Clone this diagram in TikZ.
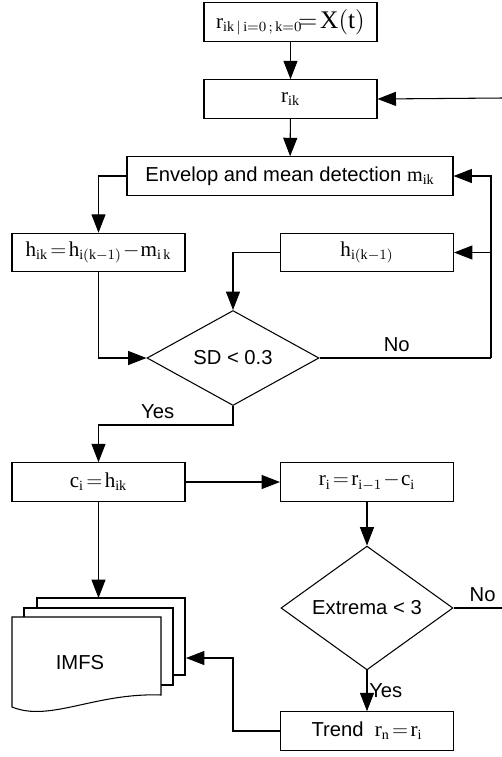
\documentclass[tikz,border=0pt]{standalone}
\usepackage{amsmath}
\usepackage{fontspec}
\setmainfont{Liberation Sans}
\setmathrm{Liberation Serif}
\usepackage{tikz}
\usetikzlibrary{positioning, arrows.meta, shapes.geometric}

\begin{document}
\begin{tikzpicture}[every node/.style={font=\fontsize{11.5}{13}\selectfont},
  box/.style={draw, line width=0.6pt, minimum width=3.46cm, minimum height=0.77cm, inner sep=1pt},
  decide/.style={draw, diamond, line width=0.6pt, minimum width=3.44cm, minimum height=1.9cm, inner sep=0pt},
  arr/.style={-{Triangle[length=10.5pt, width=8pt]}, line width=0.6pt},
  line/.style={line width=0.6pt}]
  \useasboundingbox (0,0) rectangle (10.04,-15.14);
  \node[box] (start) at (5.81,-0.44) {\large $\mathrm{r}_{\mathrm{ik}\,|\,\mathrm{i}=0\,;\,\mathrm{k}=0}$\Large$\!=\!\mathrm{X}(\mathrm{t})$};
  \node[box] (rik) at (5.81,-1.98) {\large $\mathrm{r}_{\mathrm{ik}}$};
  \node[box, minimum width=6.52cm] (env) at (5.80,-3.52) {Envelop and mean detection $\mathrm{m}_{\mathrm{ik}}$};
  \node[box] (hik) at (1.97,-5.05) {\large $\mathrm{h}_{\mathrm{ik}}\!=\!\mathrm{h}_{\mathrm{i}(\mathrm{k}-1)}\!-\!\mathrm{m}_{\mathrm{i\,k}}$};
  \node[box] (hk1) at (7.34,-5.05) {\large $\mathrm{h}_{\mathrm{i}(\mathrm{k}-1)}$};
  \node[decide] (sd) at (4.66,-7.16) {SD < 0.3};
  \node[box] (ci) at (1.97,-9.64) {\large $\mathrm{c}_{\mathrm{i}}\!=\!\mathrm{h}_{\mathrm{ik}}$};
  \node[box] (ri) at (7.34,-9.64) {\large $\mathrm{r}_{\mathrm{i}}\!=\!\mathrm{r}_{\mathrm{i}-1}\!-\!\mathrm{c}_{\mathrm{i}}$};
  \node[decide] (ext) at (7.34,-12.16) {Extrema < 3};
  \node[box] (trend) at (7.34,-14.62) {Trend \ \large $\mathrm{r}_{\mathrm{n}}\!=\!\mathrm{r}_{\mathrm{i}}$};
  % stack of pages
  \draw[line, fill=white] (0.74,-11.96) rectangle (3.70,-13.50);
  \draw[line, fill=white] (0.48,-12.16) rectangle (3.46,-13.70);
  \draw[line, fill=white] (0.24,-12.34) -- (3.22,-12.34) -- (3.22,-13.90)
    .. controls (1.9,-13.85) and (1.0,-14.45) .. (0.24,-14.14) -- cycle;
  \node (imfs) at (1.60,-13.26) {IMFS};
  \coordinate (imfstop) at (1.97,-11.96);
  \coordinate (imfsright) at (3.72,-13.16);
  \coordinate (loopR) at (10.04,-1.96);
  \coordinate (loopB) at (10.04,-12.16);
  \coordinate (noR) at (9.82,-7.16);
  \coordinate (yesL) at (4.66,-8.50);
  \coordinate (trendL) at (4.66,-14.62);
  \draw[arr] (start) -- (rik);
  \draw[arr] (loopR) -- (rik.east);
  \draw[arr] (rik) -- (env);
  \draw[arr] (env.west) -| (hik);
  \draw[line] (sd.east) -- node[pos=0.45, above] {No} (noR);
  \draw[arr] (noR) |- (env.east);
  \draw[arr] (noR |- hk1.east) -- (hk1.east);
  \draw[arr] (hk1.west) -| (sd.north);
  \draw[arr] (hik) |- (sd.west);
  \draw[arr] (sd.south) -- (yesL) -| node[pos=0.28, above] {Yes} (ci);
  \draw[arr] (ci) -- (ri);
  \draw[arr] (ri) -- (ext);
  \draw[line] (ext.east) -- node[pos=0.6, above] {No} (loopB);
  \draw[arr] (ext) -- node[right, inner sep=1pt] {Yes} (trend);
  \draw[arr] (trend.west) -- (trendL) |- (imfsright);
  \draw[arr] (ci) -- (imfstop);
\end{tikzpicture}
\end{document}
